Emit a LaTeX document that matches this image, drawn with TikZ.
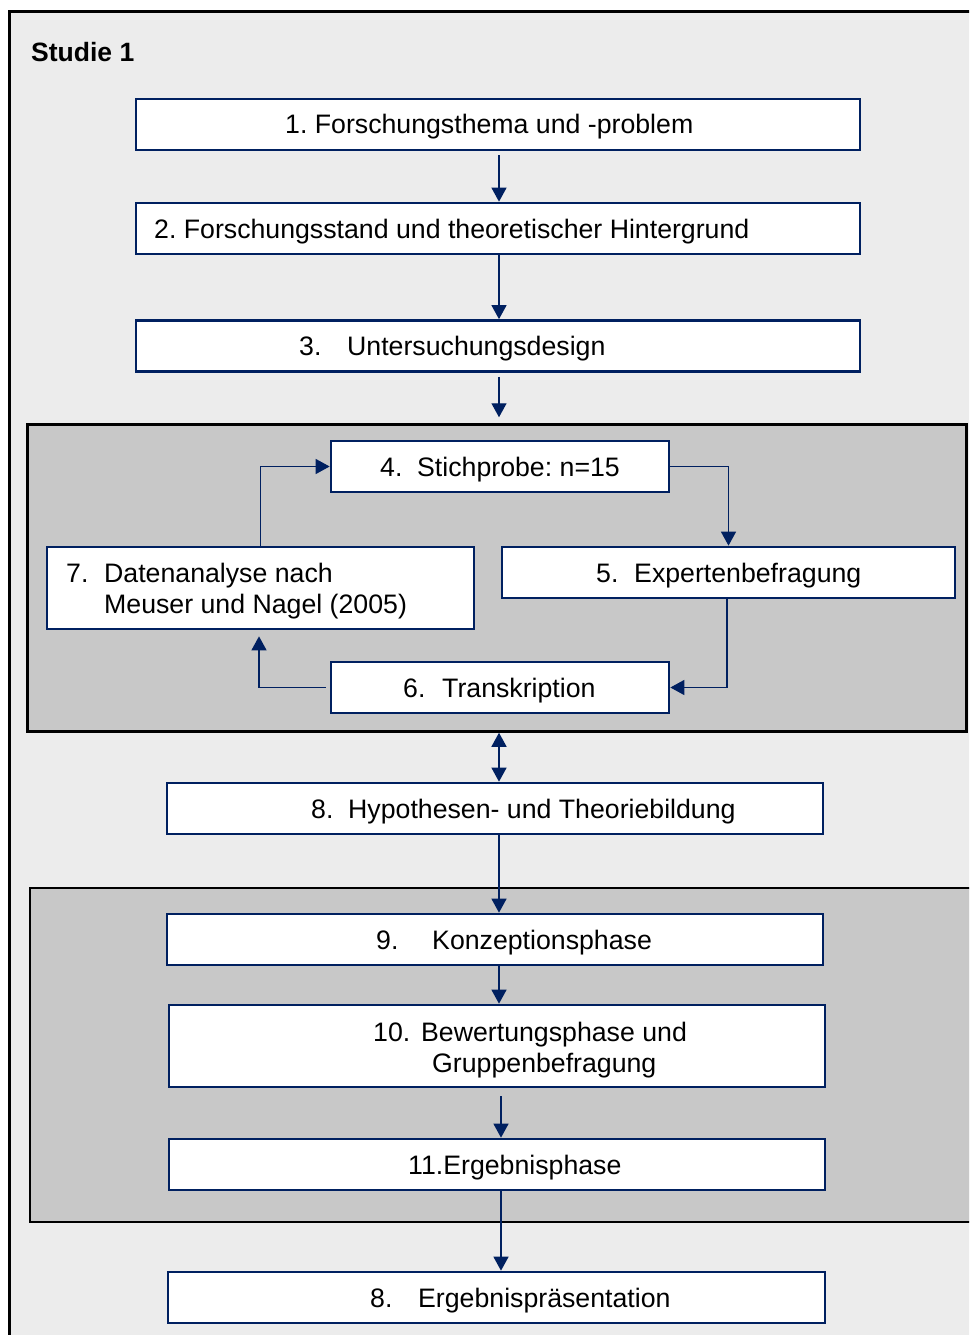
\documentclass[tikz,border=0pt]{standalone}
\usepackage{fontspec}
\setmainfont{Liberation Sans}
\usetikzlibrary{arrows.meta}
\definecolor{navy}{RGB}{0,32,96}
\definecolor{outerbg}{RGB}{236,236,236}
\definecolor{grp}{RGB}{200,200,200}
\frenchspacing
\tikzset{
  box/.style={draw=navy, line width=2.7pt, fill=white, inner sep=0pt},
  group/.style={draw=black, line width=2.5pt, fill=grp, inner sep=0pt},
  lbl/.style={anchor=base west, inner sep=0pt, font=\fontsize{26.7}{31}\selectfont},
  conn/.style={draw=navy, line width=1.4pt, -{Triangle[length=14pt,width=15pt]}},
  dconn/.style={draw=navy, line width=1.4pt, {Triangle[length=14pt,width=15pt]}-{Triangle[length=14pt,width=15pt]}}
}
\begin{document}
\begin{tikzpicture}[x=1pt,y=-1pt]
\clip (0,0) rectangle (969,1335);
\fill[white] (0,0) rectangle (969,1335);
% outer frame
\draw[draw=black, line width=2.5pt, fill=outerbg] (9.5,11.5) rectangle (1000,1400);
\node[lbl, font=\fontsize{26.5}{31}\selectfont\bfseries] (studie) at (31,62) {Studie 1};

% group boxes
\node[group, minimum width=939pt, minimum height=307pt] (g1) at (497,578) {};
\node[group, minimum width=1000pt, minimum height=334pt] (g2) at (530,1055) {};

% boxes
\node[box, minimum width=724pt, minimum height=51pt] (b1) at (498,124.5) {};
\node[box, minimum width=724pt, minimum height=51pt] (b2) at (498,228.5) {};
\node[box, minimum width=724pt, minimum height=51pt] (b3) at (498,346) {};
\node[box, minimum width=338pt, minimum height=51pt] (b4) at (500,466.5) {};
\node[box, minimum width=453pt, minimum height=51pt] (b5) at (728.5,572.5) {};
\node[box, minimum width=427pt, minimum height=82pt] (b7) at (260.5,588) {};
\node[box, minimum width=338pt, minimum height=51pt] (b6) at (500,687.5) {};
\node[box, minimum width=656pt, minimum height=51pt] (b8) at (495,808.5) {};
\node[box, minimum width=656pt, minimum height=51pt] (b9) at (495,939.5) {};
\node[box, minimum width=656pt, minimum height=82pt] (b10) at (497,1046) {};
\node[box, minimum width=656pt, minimum height=51pt] (b11) at (497,1164.5) {};
\node[box, minimum width=657pt, minimum height=51pt] (b12) at (496.5,1297.5) {};

% texts
\node[lbl] (t1) at (285,134) {1. Forschungsthema und -problem};
\node[lbl] (t2) at (154,238) {2. Forschungsstand und theoretischer Hintergrund};
\node[lbl] (t3) at (299,355.5) {\makebox[48pt][l]{3.}Untersuchungsdesign};
\node[lbl] (t4) at (380,476) {\makebox[37pt][l]{4.}Stichprobe: n=15};
\node[lbl] (t5) at (596,582) {\makebox[38pt][l]{5.}Expertenbefragung};
\node[lbl] (t7a) at (66,582) {\makebox[38pt][l]{7.}Datenanalyse nach};
\node[lbl] (t7b) at (104,613) {Meuser und Nagel (2005)};
\node[lbl] (t6) at (403,697) {\makebox[39pt][l]{6.}Transkription};
\node[lbl] (t8) at (311,818) {\makebox[37pt][l]{8.}Hypothesen- und Theoriebildung};
\node[lbl] (t9) at (376,949) {\makebox[56pt][l]{9.}Konzeptionsphase};
\node[lbl] (t10a) at (373,1041.5) {\makebox[48pt][l]{10.}Bewertungsphase und};
\node[lbl] (t10b) at (432,1072.5) {Gruppenbefragung};
\node[lbl] (t11) at (408,1174) {11.Ergebnisphase};
\node[lbl] (t12) at (370,1307) {\makebox[48pt][l]{8.}Ergebnispräsentation};

% connectors
\draw[conn, shorten <=4pt] ([xshift=1pt]b1.south) -- ([xshift=1pt]b2.north);
\draw[conn] ([xshift=1pt]b2.south) -- ([xshift=1pt]b3.north);
\draw[conn, shorten <=4pt, shorten >=6pt] ([xshift=1pt]b3.south) -- ([xshift=1pt]b3.south |- g1.north);
\draw[conn] (b7.north) |- (b4.west);
\draw[conn] (b4.east) -| (b5.north);
\draw[conn] ([xshift=-1.5pt]b5.south) |- (b6.east);
\draw[conn, shorten >=6pt] ([xshift=-4pt]b6.west) -| ([xshift=-1.5pt]b7.south);
\draw[dconn] ([xshift=4pt]b8.north |- g1.south) -- ([xshift=4pt]b8.north);
\draw[conn] ([xshift=4pt]b8.south) -- ([xshift=4pt]b9.north);
\draw[conn] ([xshift=4pt]b9.south) -- ([xshift=2pt]b10.north);
\draw[conn, shorten <=8pt] ([xshift=4pt]b10.south) -- ([xshift=4pt]b11.north);
\draw[conn] ([xshift=4pt]b11.south) -- ([xshift=4.5pt]b12.north);
\end{tikzpicture}
\end{document}
